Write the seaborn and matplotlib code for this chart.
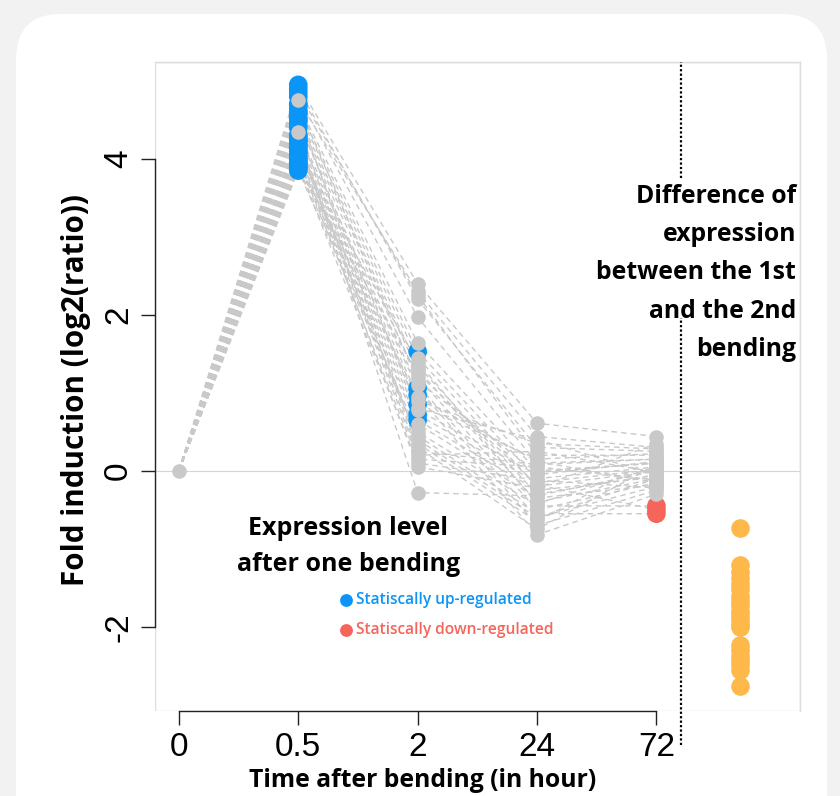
import numpy as np
import pandas as pd
import matplotlib
matplotlib.use("Agg")
import matplotlib.pyplot as plt
import seaborn as sns
from matplotlib.patches import FancyBboxPatch, Rectangle
from matplotlib.transforms import IdentityTransform

# time points after one bending
time_labels = ["0", "0.5", "2", "24", "72"]

# fold induction per gene at 0.5h, 2h, 24h, 72h (0h is always 0)
t05 = [4.95, 4.75, 4.9, 4.85, 4.8, 4.7, 4.65, 4.6, 4.55, 4.5, 4.45, 4.35,
       4.3, 4.25, 4.2, 4.15, 4.1, 4.05, 4.0, 3.95, 3.9, 3.85, 4.6, 4.4,
       4.2, 4.0, 3.9, 4.1, 4.3, 4.5, 4.7, 3.95, 4.05, 4.15, 4.25, 3.88]
t2 = [2.4, 2.3, 2.2, 2.25, 1.97, 1.64, 1.53, 1.45, 1.35, 1.3, 1.2, 1.1,
      1.06, 0.97, 0.9, 0.85, 0.78, 0.72, 0.65, 0.6, 0.5, 0.45, 0.35, 0.3,
      0.2, 0.15, 0.1, 0.05, -0.28, 0.8, 1.15, 0.95, 1.4, 0.4, 0.25, 1.25]
t24 = [0.61, 0.44, 0.3, 0.2, 0.1, 0.0, -0.1, -0.2, -0.3, -0.4, -0.5, -0.6,
       -0.7, -0.82, 0.35, 0.15, -0.05, -0.15, -0.25, -0.35, -0.45, -0.55,
       -0.65, -0.75, 0.25, 0.05, -0.12, -0.22, -0.32, 0.4, -0.02, 0.12,
       -0.42, -0.6, 0.08, -0.18]
t72 = [0.44, 0.3, 0.25, 0.2, 0.15, 0.1, 0.05, 0.0, -0.05, -0.1, -0.15, -0.2,
       -0.25, -0.3, 0.28, 0.22, 0.12, 0.02, -0.08, -0.18, -0.45, -0.55, 0.18,
       0.08, -0.02, -0.12, -0.22, 0.35, 0.0, -0.05, 0.1, -0.15, 0.05, -0.1,
       0.15, -0.5]

# significance flags: which genes are up/down-regulated at each time
up_05 = [i for i in range(len(t05)) if i not in (1, 11)]
up_2 = [6, 12, 13, 15, 17, 18]
down_72 = [20, 21, 35]

# difference of expression between 1st and 2nd bending
diff_values = [-0.73, -1.21, -1.3, -1.38, -1.45, -1.52, -1.6, -1.67, -1.72,
               -1.8, -1.85, -1.9, -1.96, -2.0, -2.23, -2.3, -2.37, -2.42,
               -2.48, -2.55, -2.76]

GRAY = "#c9c9c9"
BLUE = "#0a95f7"
RED = "#f5655a"
ORANGE = "#ffb84a"

sns.set_theme(style="white")
plt.rcParams["font.family"] = ["Open Sans", "DejaVu Sans"]
plt.rcParams["text.color"] = "black"

# build long table
rows = []
series = [np.zeros(len(t05)), t05, t2, t24, t72]
for g in range(len(t05)):
    for k, vals in enumerate(series):
        status = "ns"
        if k == 1 and g in up_05:
            status = "up"
        if k == 2 and g in up_2:
            status = "up"
        if k == 4 and g in down_72:
            status = "down"
        rows.append({"gene": g, "pos": k, "value": vals[g], "status": status})
df = pd.DataFrame(rows)
diff_df = pd.DataFrame({"pos": 4.7, "value": diff_values})

fig = plt.figure(figsize=(8.4, 7.96), dpi=100)
fig.patch.set_facecolor("#f2f2f2")
card = FancyBboxPatch((16, -60), 811, 842, boxstyle="round,pad=0,rounding_size=45",
                      transform=IdentityTransform(), fc="white", ec="none", zorder=-5)
fig.add_artist(card)

ax = fig.add_axes([0.1845, 0.1068, 0.7675, 0.815])
ax.set_facecolor("white")

ax.axhline(0, color="#d4d4d4", lw=0.8, zorder=0)

sns.lineplot(data=df, x="pos", y="value", units="gene", estimator=None,
             color=GRAY, lw=1.0, ls=(0, (4, 3)), ax=ax, zorder=1)

sig = df[df.status != "ns"]
sns.scatterplot(data=sig, x="pos", y="value", hue="status",
                palette={"up": BLUE, "down": RED}, s=180, linewidth=0,
                legend=False, ax=ax, zorder=2)
ns = df[(df.status == "ns") & (df.pos > 0)]
sns.scatterplot(data=ns, x="pos", y="value", color=GRAY, s=110, linewidth=0,
                ax=ax, zorder=3)
sns.scatterplot(data=df[df.pos == 0].head(1), x="pos", y="value", color=GRAY,
                s=110, linewidth=0, ax=ax, zorder=3)
sns.scatterplot(data=diff_df, x="pos", y="value", color=ORANGE, s=180,
                linewidth=0, ax=ax, zorder=3)

# dotted separator, interrupted behind the right-hand caption
ax.plot([4.21, 4.21], [3.76, 5.24], color="black", ls=(0, (1, 1)), lw=1.6,
        clip_on=False, zorder=4)
ax.plot([4.21, 4.21], [-3.52, 1.96], color="black", ls=(0, (1, 1)), lw=1.6,
        clip_on=False, zorder=4)

ax.set_xlim(-0.2, 5.2)
ax.set_ylim(-3.08, 5.24)

# box and R-style axes
for side in ["top", "right", "left", "bottom"]:
    ax.spines[side].set_color("#dddddd")
    ax.spines[side].set_linewidth(1)
ax.spines["left"].set_bounds(-2, 4)
ax.spines["bottom"].set_bounds(0, 4)
ax.spines["left"].set_color("#222222")
ax.spines["bottom"].set_color("#222222")
ax.add_patch(Rectangle((0, 0), 1, 1, transform=ax.transAxes, fill=False,
                       ec="#dddddd", lw=1, zorder=0))

ax.set_xticks(range(5))
ax.set_xticklabels(time_labels, family="Liberation Sans", fontsize=24,
                   color="black")
ax.set_yticks([-2, 0, 2, 4])
ax.set_yticklabels(["-2", "0", "2", "4"], family="Liberation Sans", fontsize=24,
                   rotation=90, va="center", color="black")
ax.tick_params(axis="both", which="both", length=10, width=1, color="#222222",
               direction="out", bottom=True, left=True, pad=5)

ax.set_xlabel("Time after bending (in hour)", fontsize=17.8, fontweight="bold",
              color="black", labelpad=0)
ax.xaxis.set_label_coords(0.4155, -0.088)
ax.set_ylabel("Fold induction (log2(ratio))", fontsize=21.3, fontweight="bold",
              color="black")
ax.yaxis.set_label_coords(-0.1, 0.4946)

ax.text(5.17, 3.68, "Difference of\nexpression\nbetween the 1st\nand the 2nd\nbending",
        ha="right", va="top", fontsize=17.8, fontweight="bold", linespacing=1.7)
ax.text(1.42, -0.97, "Expression level\nafter one bending", ha="center",
        va="center", fontsize=18, fontweight="bold", linespacing=1.6)

ax.scatter([1.40], [-1.66], color=BLUE, s=85, linewidth=0)
ax.text(1.48, -1.66, "Statiscally up-regulated", color=BLUE, fontsize=11.2,
        fontweight="semibold", va="center")
ax.scatter([1.40], [-2.04], color=RED, s=85, linewidth=0)
ax.text(1.48, -2.04, "Statiscally down-regulated", color=RED, fontsize=11.2,
        fontweight="semibold", va="center")

fig.savefig("out.png", dpi=100, facecolor=fig.get_facecolor())
